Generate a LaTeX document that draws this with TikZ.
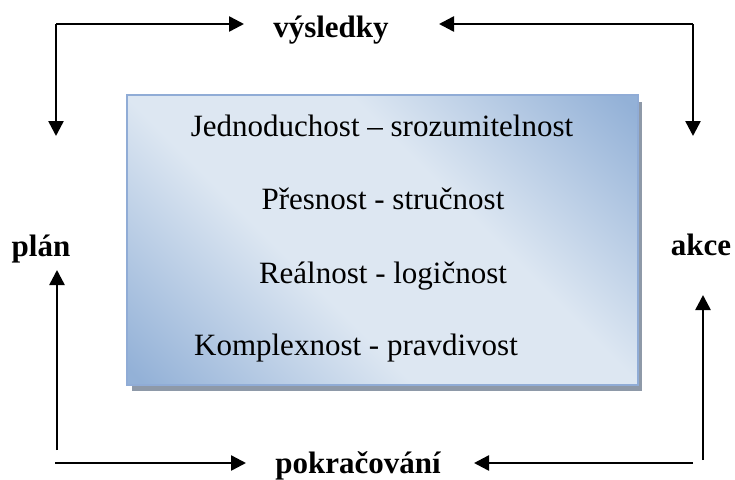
\documentclass[tikz,border=0pt]{standalone}
\usepackage{fontspec}
\setmainfont{Liberation Serif}
\usetikzlibrary{arrows.meta}
\definecolor{boxdark}{HTML}{93B1D7}
\definecolor{boxlight}{HTML}{DDE7F2}
\definecolor{boxedge}{HTML}{90ACD6}
\definecolor{shadowgray}{HTML}{8E99A8}
\pgfdeclareverticalshading{boxshade}{100bp}{color(0bp)=(boxdark); color(16bp)=(boxdark); color(40bp)=(boxlight); color(60bp)=(boxlight); color(84bp)=(boxdark); color(100bp)=(boxdark)}
\tikzset{
  flowarrow/.style={line width=2.5pt, -{Triangle[length=15pt,width=15pt]}},
  label/.style={font=\fontsize{31}{36}\selectfont\bfseries, anchor=base, inner sep=0pt},
  boxtext/.style={font=\fontsize{31}{36}\selectfont, anchor=base, inner sep=0pt},
  mainbox/.style={draw=boxedge, line width=2.5pt, shading=boxshade, shading angle=-45,
    minimum width=511pt, minimum height=290pt, inner sep=0pt, outer sep=0pt},
}
\begin{document}
\begin{tikzpicture}[x=1pt,y=-1pt]
\useasboundingbox (0,0) rectangle (735,479);
% shadow and box
\fill[shadowgray] (132,102) rectangle (642,391);
\node[mainbox] (box) at (382.5,240) {};
\node[boxtext] (t1) at (382,136) {Jednoduchost – srozumitelnost};
\node[boxtext] (t2) at (383,209) {Přesnost - stručnost};
\node[boxtext] (t3) at (383,283) {Reálnost - logičnost};
\node[boxtext] (t4) at (356,355) {Komplexnost - pravdivost};
% labels
\node[label] (vys) at (331,37) {výsledky};
\node[label] (plan) at (41,256) {plán};
\node[label] (akce) at (701,255) {akce};
\node[label] (pok) at (358,473) {pokračování};
% coordinates
\coordinate (tl) at (56,24);
\coordinate (tlh) at (244,24);
\coordinate (tlv) at (56,136);
\coordinate (tr) at (693,24);
\coordinate (trh) at (439,24);
\coordinate (trv) at (693,136);
\coordinate (blv0) at (57,450);
\coordinate (blv) at (57,270);
\coordinate (blh0) at (55,463);
\coordinate (blh) at (246,463);
\coordinate (brh0) at (693,463);
\coordinate (brh) at (474,463);
\coordinate (brv0) at (703,460);
\coordinate (brv) at (703,295);
% arrows
\draw[flowarrow] (tl) -- (tlh);
\draw[flowarrow] (tl) -- (tlv);
\draw[flowarrow] (tr) -- (trh);
\draw[flowarrow] (tr) -- (trv);
\draw[flowarrow] (blv0) -- (blv);
\draw[flowarrow] (blh0) -- (blh);
\draw[flowarrow] (brh0) -- (brh);
\draw[flowarrow] (brv0) -- (brv);
\end{tikzpicture}
\end{document}
